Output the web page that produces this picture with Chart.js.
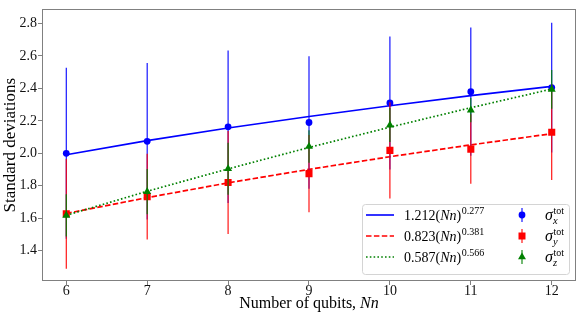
<!DOCTYPE html>
<html><head><meta charset="utf-8">
<script src="https://cdn.jsdelivr.net/npm/chart.js@4/dist/chart.umd.min.js"></script>
<style>html,body{margin:0;padding:0;background:#fff}#wrap{position:relative;width:582px;height:318px}</style>
</head><body><div id="wrap"><canvas id="c" width="582" height="318"></canvas></div>
<script>
// ---- data ----
const qubits    = [6, 7, 8, 9, 10, 11, 12];
const sigmaX    = [2.000, 2.074, 2.163, 2.190, 2.310, 2.380, 2.405];
const sigmaXErr = [0.527, 0.482, 0.470, 0.408, 0.410, 0.395, 0.400];
const sigmaY    = [1.627, 1.733, 1.820, 1.875, 2.018, 2.026, 2.130];
const sigmaYErr = [0.338, 0.264, 0.317, 0.238, 0.297, 0.214, 0.295];
const sigmaZ    = [1.617, 1.764, 1.905, 2.042, 2.174, 2.266, 2.394];
const sigmaZErr = [0.130, 0.140, 0.160, 0.100, 0.105, 0.075, 0.120];
const fitX      = [1.991, 2.078, 2.156, 2.227, 2.293, 2.355, 2.412];
const fitY      = [1.629, 1.727, 1.818, 1.901, 1.979, 2.052, 2.121];
const fitZ      = [1.618, 1.766, 1.904, 2.036, 2.161, 2.281, 2.396];
const xTicks    = [6, 7, 8, 9, 10, 11, 12];
const yTicks    = [1.4, 1.6, 1.8, 2.0, 2.2, 2.4, 2.6, 2.8];
const fitLabels = [["1.212", "0.277"], ["0.823", "0.381"], ["0.587", "0.566"]];
const sigmaSubs = ["x", "y", "z"];
const xTitle    = ["Number of qubits, ", "Nn"];
const yTitle    = "Standard deviations";

const SERIF = '"Liberation Serif", "Times New Roman", serif';
const BLUE = '#0000ff', RED = '#ff0000', GREEN = '#008000';
const pts = arr => qubits.map((q, i) => ({x: q, y: arr[i]}));

const errPlugin = {
  id: 'errbars',
  beforeDatasetDraw(chart, args) {
    const ds = chart.data.datasets[args.index];
    if (!ds.errors) return;
    const xs = chart.scales.x, ys = chart.scales.y, ctx = chart.ctx;
    ctx.save();
    ctx.strokeStyle = ds.errColor; ctx.lineWidth = 1.1;
    ds.data.forEach((p, i) => {
      const e = ds.errors[i], px = xs.getPixelForValue(p.x);
      ctx.beginPath();
      ctx.moveTo(px, ys.getPixelForValue(p.y - e));
      ctx.lineTo(px, ys.getPixelForValue(p.y + e));
      ctx.stroke();
    });
    ctx.restore();
  }
};

function drawMarker(ctx, style, x, y, color) {
  ctx.fillStyle = color;
  ctx.beginPath();
  if (style === 'circle') { ctx.arc(x, y, 3.4, 0, Math.PI * 2); }
  else if (style === 'rect') { ctx.rect(x - 3.5, y - 3.5, 7, 7); }
  else { const r = 4.6; ctx.moveTo(x, y - r); ctx.lineTo(x + r * 0.866, y + r * 0.5); ctx.lineTo(x - r * 0.866, y + r * 0.5); ctx.closePath(); }
  ctx.fill();
}

const decorPlugin = {
  id: 'decor',
  afterDatasetsDraw(chart) {
    const ctx = chart.ctx, a = chart.chartArea;
    ctx.save();
    // frame
    ctx.strokeStyle = '#808080'; ctx.lineWidth = 1;
    ctx.strokeRect(Math.round(a.left) + 0.5, Math.round(a.top) + 0.5, Math.round(a.right - a.left) - 1, Math.round(a.bottom - a.top) - 1);
    // x title
    ctx.fillStyle = '#000'; ctx.textBaseline = 'alphabetic';
    ctx.font = '16px ' + SERIF;
    const w1 = ctx.measureText(xTitle[0]).width;
    ctx.font = 'italic 16px ' + SERIF;
    const w2 = ctx.measureText(xTitle[1]).width;
    let sx = (a.left + a.right) / 2 - (w1 + w2) / 2;
    ctx.font = '16px ' + SERIF; ctx.fillText(xTitle[0], sx, 307.5);
    ctx.font = 'italic 16px ' + SERIF; ctx.fillText(xTitle[1], sx + w1, 307.5);

    // legend
    const lx = 362, ly = 204, lw = 207, lh = 70;
    ctx.fillStyle = 'rgba(255,255,255,0.85)'; ctx.strokeStyle = '#d4d4d4';
    ctx.beginPath(); ctx.roundRect(lx + 0.5, ly + 0.5, lw, lh, 3); ctx.fill(); ctx.stroke();
    const rows = [215, 236, 257];
    const cols = [BLUE, RED, GREEN];
    const dashes = [[], [5.5, 2.4], [1.6, 2.2]];
    const styles = ['circle', 'rect', 'triangle'];
    rows.forEach((ry, i) => {
      ctx.strokeStyle = cols[i]; ctx.lineWidth = 1.6; ctx.setLineDash(dashes[i]);
      ctx.beginPath(); ctx.moveTo(366, ry); ctx.lineTo(394, ry); ctx.stroke();
      ctx.setLineDash([]);
      // fit text
      ctx.fillStyle = '#000';
      let tx = 404; const base = ry + 5;
      const parts = [[fitLabels[i][0] + '(', ''], ['Nn', 'italic '], [')', '']];
      parts.forEach(([t, st]) => { ctx.font = st + '14px ' + SERIF; ctx.fillText(t, tx, base); tx += ctx.measureText(t).width; });
      ctx.font = '10px ' + SERIF; ctx.fillText(fitLabels[i][1], tx + 0.5, base - 6.5);
      // marker with errorbar
      ctx.strokeStyle = cols[i]; ctx.lineWidth = 1.1;
      ctx.beginPath(); ctx.moveTo(522, ry - 7); ctx.lineTo(522, ry + 7); ctx.stroke();
      drawMarker(ctx, styles[i], 522, ry, cols[i]);
      // sigma text
      ctx.fillStyle = '#000';
      ctx.font = 'italic 16px ' + SERIF; ctx.fillText('σ', 545, ry + 5);
      const sw = ctx.measureText('σ').width;
      ctx.font = '10px ' + SERIF; ctx.fillText('tot', 545 + sw + 0.5, ry - 1.5);
      ctx.font = 'italic 10.5px ' + SERIF; ctx.fillText(sigmaSubs[i], 545 + sw, ry + 9);
    });
    ctx.restore();
  }
};

new Chart(document.getElementById('c'), {
  type: 'scatter',
  data: {
    datasets: [
      {label: 'fit x', data: pts(fitX), showLine: true, borderColor: BLUE, borderWidth: 1.7, pointRadius: 0, order: 12},
      {label: 'fit y', data: pts(fitY), showLine: true, borderColor: RED, borderWidth: 1.7, borderDash: [5.5, 2.4], pointRadius: 0, order: 11},
      {label: 'fit z', data: pts(fitZ), showLine: true, borderColor: GREEN, borderWidth: 1.7, borderDash: [1.6, 2.2], pointRadius: 0, order: 10},
      {label: 'σx tot', data: pts(sigmaX), errors: sigmaXErr, errColor: BLUE, pointStyle: 'circle', pointRadius: 3.4, backgroundColor: BLUE, borderWidth: 0, order: 3},
      {label: 'σy tot', data: pts(sigmaY), errors: sigmaYErr, errColor: RED, pointStyle: 'rect', pointRadius: 5, backgroundColor: RED, borderWidth: 0, order: 2},
      {label: 'σz tot', data: pts(sigmaZ), errors: sigmaZErr, errColor: GREEN, pointStyle: 'triangle', pointRadius: 4.6, backgroundColor: GREEN, borderWidth: 0, order: 1}
    ]
  },
  options: {
    responsive: false, animation: false, devicePixelRatio: 1,
    layout: {padding: {top: 5, right: 6, left: 0, bottom: 0}},
    plugins: {legend: {display: false}, tooltip: {enabled: false}},
    scales: {
      x: {
        type: 'linear', min: 5.7, max: 12.3,
        afterFit: s => { s.height = 37; },
        afterBuildTicks: s => { s.ticks = xTicks.map(v => ({value: v})); },
        grid: {drawOnChartArea: false, drawTicks: true, tickLength: 4, tickColor: '#808080'},
        border: {display: false},
        ticks: {color: '#111', padding: -2, font: {family: SERIF, size: 14}, callback: v => String(v)}
      },
      y: {
        type: 'linear', min: 1.213, max: 2.887,
        afterFit: s => { s.width = 42; },
        afterBuildTicks: s => { s.ticks = yTicks.map(v => ({value: v})); },
        grid: {drawOnChartArea: false, drawTicks: true, tickLength: 4, tickColor: '#808080'},
        border: {display: false},
        ticks: {color: '#111', padding: 1, font: {family: SERIF, size: 14}, callback: v => Number(v).toFixed(1)},
        title: {display: true, text: yTitle, color: '#000', font: {family: SERIF, size: 17}, padding: {top: 0, bottom: 0}}
      }
    }
  },
  plugins: [errPlugin, decorPlugin]
});
</script></body></html>
